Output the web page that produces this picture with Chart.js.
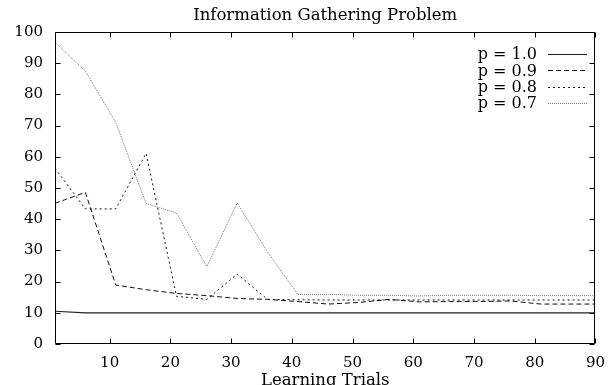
<!DOCTYPE html>
<html>
<head>
<meta charset="utf-8">
<title>Information Gathering Problem</title>
<script src="https://cdn.jsdelivr.net/npm/chart.js@4/dist/chart.umd.min.js"></script>
<style>
  html, body { margin: 0; padding: 0; background: #fff; }
  canvas { display: block; }
</style>
</head>
<body>
<canvas id="chart" width="615" height="385"></canvas>
<script>
(function () {

// ---------------------------------------------------------------------------------------------
// data

var chartTitle = "Information Gathering Problem";
var xTitle = "Learning Trials";

var trials = [1, 6, 11, 16, 21, 26, 31, 36, 41, 46, 51, 56, 61, 66, 71, 76, 81, 86, 90];

var seriesNames = ["p = 1.0", "p = 0.9", "p = 0.8", "p = 0.7"];

var p10 = [10.5, 10, 10, 10, 10, 10, 10, 10, 10, 10, 10, 10, 10, 10, 10, 10, 10, 10, 10];
var p09 = [45.1, 48.6, 18.9, 17.4, 16.2, 15.5, 14.6, 14.3, 13.6, 12.8, 13.3, 14.3, 13.5, 13.6, 13.6, 13.8, 12.8, 12.8, 12.8];
var p08 = [56.3, 43.3, 43.3, 61.1, 15.3, 14.3, 22.4, 14.3, 14.2, 14.1, 14.1, 14.1, 14.1, 14.1, 14.1, 14.1, 14.1, 14.1, 14.1];
var p07 = [96.7, 87.5, 71.0, 45.0, 42.0, 24.8, 45.2, 29.5, 15.9, 15.9, 15.6, 15.6, 15.4, 15.6, 15.6, 15.6, 15.5, 15.5, 15.5];

var xTicks = [10, 20, 30, 40, 50, 60, 70, 80, 90];
var yTicks = [0, 10, 20, 30, 40, 50, 60, 70, 80, 90, 100];

// ---------------------------------------------------------------------------------------------

function points(vals) {
    return vals.map(function (v, i) { return { x: trials[i], y: v }; });
}

var FONT = "'DejaVu Serif', 'Liberation Serif', serif";
Chart.defaults.font.family = FONT;
Chart.defaults.font.size = 15;
Chart.defaults.color = "#000";

// gnuplot style frame: border all round, ticks pointing inwards on all four sides
var framePlugin = {
    id: "frame",
    afterDraw: function (chart) {
        var a = chart.chartArea, ctx = chart.ctx;
        var xs = chart.scales.x, ys = chart.scales.y;
        var L = Math.round(a.left) + 0.5, R = Math.round(a.right) - 0.5;
        var T = Math.round(a.top) + 0.5, B = Math.round(a.bottom) - 0.5;
        var tl = 5;
        ctx.save();
        ctx.strokeStyle = "#000";
        ctx.lineWidth = 1;
        ctx.beginPath();
        ctx.rect(L, T, R - L, B - T);
        xTicks.forEach(function (v) {
            var px = Math.round(xs.getPixelForValue(v)) + 0.5;
            ctx.moveTo(px, B); ctx.lineTo(px, B - tl);
            ctx.moveTo(px, T); ctx.lineTo(px, T + tl);
        });
        yTicks.forEach(function (v) {
            var py = Math.round(ys.getPixelForValue(v)) + 0.5;
            ctx.moveTo(L, py); ctx.lineTo(L + tl, py);
            ctx.moveTo(R, py); ctx.lineTo(R - tl, py);
        });
        ctx.stroke();

        // title, centred over the plot
        ctx.fillStyle = "#000";
        ctx.font = "16.5px " + FONT;
        ctx.textAlign = "center";
        ctx.textBaseline = "middle";
        ctx.fillText(chartTitle, (a.left + a.right) / 2, 16);
        ctx.restore();
    }
};

// key in the top right corner: label right aligned, line sample after it
var keyPlugin = {
    id: "key",
    afterDatasetsDraw: function (chart) {
        var ctx = chart.ctx;
        var textRight = 537, lineL = 548, lineR = 587, y0 = 54, dy = 16.4;
        ctx.save();
        ctx.font = "16px " + FONT;
        ctx.textAlign = "right";
        ctx.textBaseline = "middle";
        chart.data.datasets.forEach(function (ds, i) {
            var y = y0 + i * dy;
            ctx.fillStyle = "#000";
            ctx.fillText(ds.label, textRight, y + 1);
            ctx.strokeStyle = ds.borderColor;
            ctx.lineWidth = ds.borderWidth;
            ctx.setLineDash(ds.borderDash || []);
            ctx.beginPath();
            ctx.moveTo(lineL, Math.round(y) + 0.5);
            ctx.lineTo(lineR, Math.round(y) + 0.5);
            ctx.stroke();
        });
        ctx.restore();
    }
};

var ctx = document.getElementById("chart").getContext("2d");

new Chart(ctx, {
    type: "line",
    data: {
        datasets: [
            { label: seriesNames[0], data: points(p10), borderColor: "#222", borderWidth: 1.2, borderDash: [] },
            { label: seriesNames[1], data: points(p09), borderColor: "#111", borderWidth: 1, borderDash: [5, 3] },
            { label: seriesNames[2], data: points(p08), borderColor: "#111", borderWidth: 1, borderDash: [2, 3] },
            { label: seriesNames[3], data: points(p07), borderColor: "#777", borderWidth: 1, borderDash: [1, 1] }
        ]
    },
    options: {
        responsive: false,
        animation: false,
        layout: { padding: { top: 32, right: 10, bottom: 0, left: 0 } },
        elements: {
            point: { radius: 0 },
            line: { tension: 0, fill: false }
        },
        plugins: {
            legend: { display: false },
            title: { display: false },
            tooltip: { enabled: false }
        },
        scales: {
            x: {
                type: "linear",
                min: 1,
                max: 90,
                afterBuildTicks: function (s) { s.ticks = xTicks.map(function (v) { return { value: v }; }); },
                afterFit: function (s) { s.height = 41; },
                grid: { display: false, drawTicks: false },
                border: { display: false },
                ticks: { padding: 10, maxRotation: 0, autoSkip: false },
                title: { display: true, text: xTitle, font: { size: 16.5 }, padding: { top: 0, bottom: -6 } }
            },
            y: {
                min: 0,
                max: 100,
                afterBuildTicks: function (s) { s.ticks = yTicks.map(function (v) { return { value: v }; }); },
                afterFit: function (s) { s.width = 55; },
                grid: { display: false, drawTicks: false },
                border: { display: false },
                ticks: { padding: 12, autoSkip: false }
            }
        }
    },
    plugins: [framePlugin, keyPlugin]
});

})();
</script>
</body>
</html>
